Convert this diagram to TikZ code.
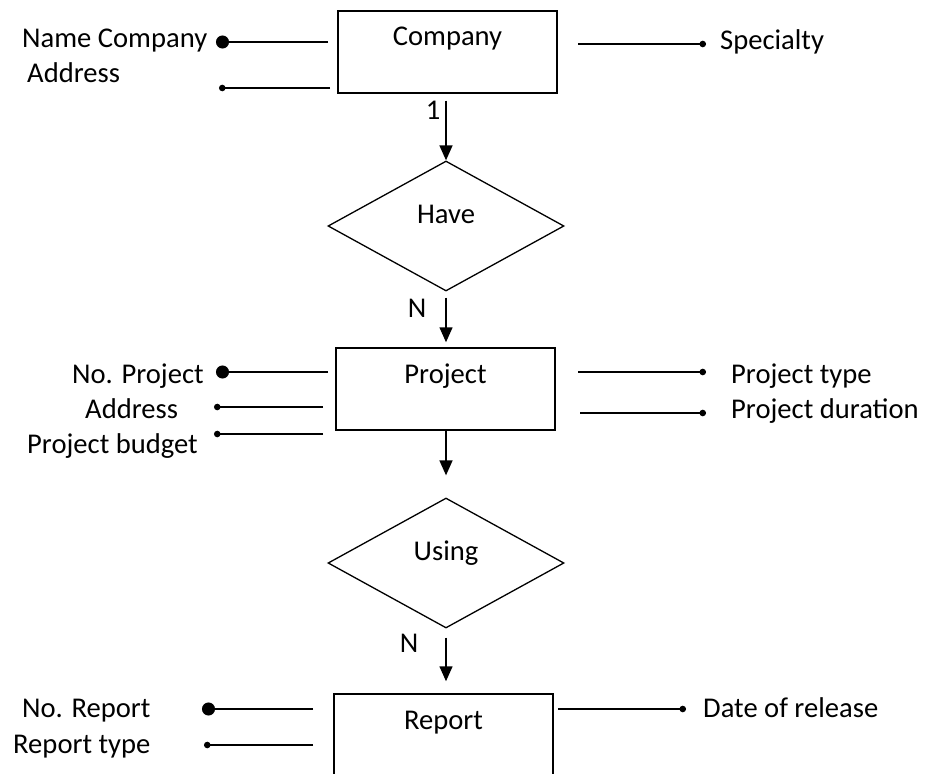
\documentclass[tikz,border=0pt]{standalone}
\usepackage{fontspec}
\setmainfont{Carlito}
\usetikzlibrary{shapes.geometric,arrows.meta}
\begin{document}
\begin{tikzpicture}[x=1pt,y=-1pt,
  every node/.style={font=\fontsize{28.6}{32}\selectfont},
  entity/.style={draw, line width=1.5pt, minimum width=219pt, inner xsep=0pt, inner ysep=0pt, text height=35pt, text depth=47pt},
  relation/.style={draw, diamond, line width=1.3pt, minimum width=236pt, minimum height=130pt, inner sep=0pt, text height=12pt, text depth=18pt},
  attr/.style={inner sep=0pt, anchor=base west},
  card/.style={inner sep=0pt, anchor=base},
  flow/.style={line width=1.5pt, -{Triangle[length=15pt,width=13pt]}},
  keyline/.style={line width=1.5pt, -{Circle[length=13pt]}},
  attrline/.style={line width=1.5pt, -{Circle[length=6.5pt]}},
]
\useasboundingbox (0,0) rectangle (925,773);
\clip (0,0) rectangle (925,773);

% entities and relationships
\node[entity] (company) at (447.5,52) {Company};
\node[relation] (have) at (446,226) {Have};
\node[entity] (project) at (445.5,389) {Project};
\node[relation] (using) at (446,563) {Using};
\node[entity] (report) at (443.5,735) {Report};

% flow between them
\draw[flow, shorten <=7pt] (company.south -| have.north) -- (have.north);
\draw[flow, shorten <=6pt, shorten >=5pt] (have.south) -- (project.north -| have.south);
\draw[flow, shorten >=22pt] (project.south -| using.north) -- (using.north);
\draw[flow, shorten <=9pt, shorten >=12pt] (using.south) -- (report.north -| using.south);

% cardinalities
\node[card] (c1) at (433,119) {1};
\node[card] (cn1) at (417,317) {N};
\node[card] (cn2) at (409,652) {N};

% company attributes
\node[attr] (namecompany) at (22,48) {Name Company};
\node[attr] (companyaddress) at (27,83) {Address};
\node[attr] (specialty) at (720,50) {Specialty};
\coordinate (ncA) at (328,42);  \coordinate (ncB) at (216,42);
\coordinate (caA) at (330,88);  \coordinate (caB) at (219,88);
\coordinate (spA) at (578,44);  \coordinate (spB) at (706,44);
\draw[keyline] (ncA) -- (ncB);
\draw[attrline] (caA) -- (caB);
\draw[attrline] (spA) -- (spB);

% project attributes
\node[attr] (noproject) at (72,383) {No. Project};
\node[attr] (projectaddress) at (85,418) {Address};
\node[attr] (budget) at (27,453) {Project budget};
\node[attr] (ptype) at (731,383) {Project type};
\node[attr] (pduration) at (731,418) {Project duration};
\coordinate (npA) at (328,372); \coordinate (npB) at (216,372);
\coordinate (paA) at (323,407); \coordinate (paB) at (214,407);
\coordinate (pbA) at (323,434); \coordinate (pbB) at (214,434);
\coordinate (ptA) at (578,372); \coordinate (ptB) at (706,372);
\coordinate (pdA) at (580,413); \coordinate (pdB) at (706,413);
\draw[keyline] (npA) -- (npB);
\draw[attrline] (paA) -- (paB);
\draw[attrline] (pbA) -- (pbB);
\draw[attrline] (ptA) -- (ptB);
\draw[attrline] (pdA) -- (pdB);

% report attributes
\node[attr] (noreport) at (22,717) {No. Report};
\node[attr] (reporttype) at (13,753) {Report type};
\node[attr] (release) at (703,717) {Date of release};
\coordinate (nrA) at (313,709); \coordinate (nrB) at (202,709);
\coordinate (rtA) at (313,745); \coordinate (rtB) at (204,745);
\coordinate (drA) at (558,709); \coordinate (drB) at (686,709);
\draw[keyline] (nrA) -- (nrB);
\draw[attrline] (rtA) -- (rtB);
\draw[attrline] (drA) -- (drB);
\end{tikzpicture}
\end{document}
